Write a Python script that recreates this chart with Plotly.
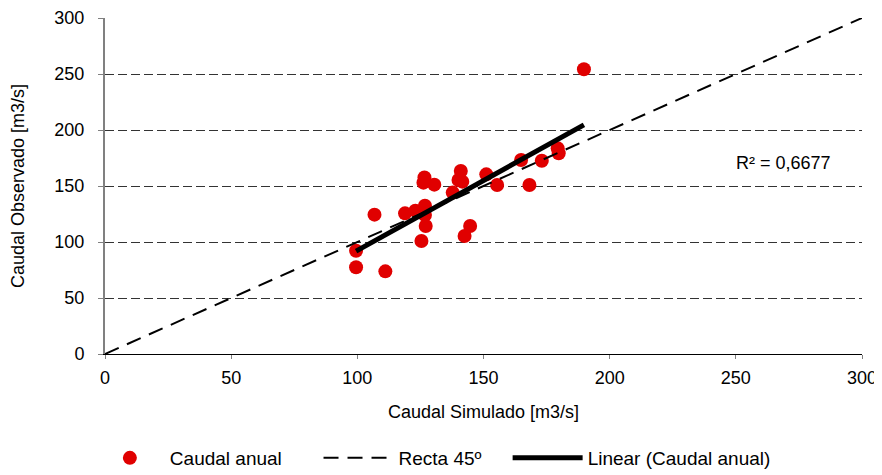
import numpy as np
import plotly.graph_objects as go

# Data
sim = [189.8, 99.5, 99.5, 111.1, 106.8, 118.9, 123.0, 126.8, 126.8, 127.1, 125.4,
       126.6, 126.2, 130.5, 141.0, 140.1, 141.6, 137.8, 144.7, 142.5, 151.1, 155.4,
       164.9, 168.2, 173.1, 179.4, 179.8]
obs = [254.2, 92.2, 77.4, 73.8, 124.4, 125.6, 128.0, 132.4, 124.1, 114.3, 100.9,
       157.7, 153.0, 151.2, 163.4, 155.4, 153.9, 144.1, 114.3, 105.4, 160.4, 150.9,
       173.2, 150.9, 172.6, 183.6, 179.2]
line45 = [0, 300]
ticks = [0, 50, 100, 150, 200, 250, 300]
r2_label = "R² = 0,6677"

sim_a = np.array(sim)
obs_a = np.array(obs)
slope, intercept = np.polyfit(sim_a, obs_a, 1)
tx = [sim_a.min(), sim_a.max()]
ty = [slope * v + intercept for v in tx]

font = "Liberation Sans, Arial, sans-serif"
NB = "\u00a0"

fig = go.Figure()
fig.add_trace(go.Scatter(x=sim, y=obs, mode="markers", name="Caudal anual" + NB * 6,
                         marker=dict(color="#e00000", size=14, line=dict(width=0))))
fig.add_trace(go.Scatter(x=line45, y=line45, mode="lines", name="Recta 45º" + NB * 4,
                         line=dict(color="black", width=2, dash="15px,9px")))
fig.add_trace(go.Scatter(x=tx, y=ty, mode="lines", name="Linear (Caudal anual)",
                         line=dict(color="black", width=5)))

fig.add_annotation(x=268.7, y=170.5, text=r2_label, showarrow=False,
                   font=dict(size=18, color="black", family=font))

fig.update_layout(
    width=874, height=467,
    margin=dict(l=97, r=20, t=10, b=121, autoexpand=False),
    paper_bgcolor="white", plot_bgcolor="white",
    font=dict(family=font, size=18, color="black"),
    showlegend=True,
    legend=dict(orientation="h", x=-0.02, xanchor="left", y=-0.253, yanchor="top",
                font=dict(size=19), itemwidth=70, tracegroupgap=0),
    xaxis=dict(range=[0, 300], tickvals=ticks, automargin=False,
               showgrid=False, zeroline=False, showline=True, linecolor="black",
               linewidth=1, ticks="outside", ticklen=4, tickcolor="#808080",
               ticklabelstandoff=3,
               title=dict(text="Caudal Simulado [m3/s]", standoff=18,
                          font=dict(size=18))),
    yaxis=dict(range=[0, 300], tickvals=ticks, automargin=False,
               showgrid=True, gridcolor="#333333", gridwidth=1, griddash="9px,4px",
               zeroline=False, showline=True, linecolor="#808080", linewidth=2,
               ticks="outside", ticklen=5, tickcolor="#808080",
               ticklabelstandoff=10,
               title=dict(text="Caudal Observado [m3/s]", standoff=30,
                          font=dict(size=18))),
)

fig.write_html("out.html")
